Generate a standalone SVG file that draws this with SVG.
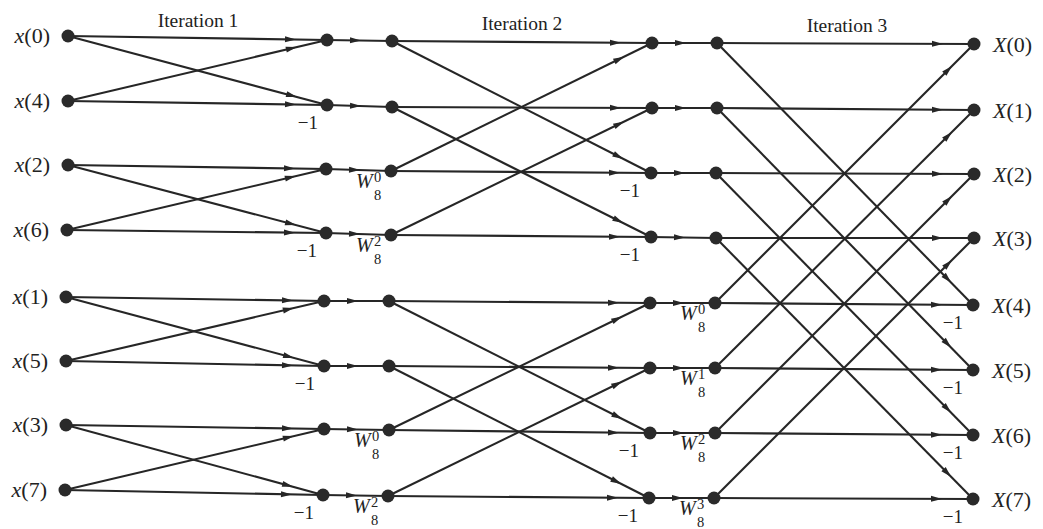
<svg xmlns="http://www.w3.org/2000/svg" width="1043" height="529" viewBox="0 0 1043 529">
<style>
.e line{stroke:#262626;stroke-width:2.1;fill:none;marker-end:url(#ah)}
circle{fill:#2a2a2a}
text{font-family:"Liberation Serif","DejaVu Serif",serif;fill:#222}
.it{font-size:19.5px}
.lb{font-size:22px}
.m1{font-size:19px;text-anchor:end}
.w{font-size:20px}
.s{font-size:14.5px;font-style:normal}
.i{font-style:italic}
</style>
<defs>
<marker id="ah" markerUnits="userSpaceOnUse" markerWidth="44" markerHeight="8" viewBox="0 -1 44 8" refX="42" refY="3" orient="auto" overflow="visible">
<path d="M0,0 L11,3 L0,6 z" fill="#262626"/>
</marker>
</defs>
<rect width="1043" height="529" fill="#ffffff"/>
<g id="titles">
<text class="it" x="198" y="27" text-anchor="middle">Iteration 1</text>
<text class="it" x="522" y="30" text-anchor="middle">Iteration 2</text>
<text class="it" x="847" y="32" text-anchor="middle">Iteration 3</text>
</g>
<g id="connectors" class="e">
<line x1="68" y1="36" x2="327" y2="40"/>
<line x1="68" y1="101" x2="327" y2="40"/>
<line x1="68" y1="36" x2="327" y2="105"/>
<line x1="68" y1="101" x2="327" y2="105"/>
<line x1="68" y1="165" x2="326" y2="169"/>
<line x1="67" y1="230" x2="326" y2="169"/>
<line x1="68" y1="165" x2="326" y2="233"/>
<line x1="67" y1="230" x2="326" y2="233"/>
<line x1="66" y1="297" x2="324" y2="301"/>
<line x1="66" y1="361" x2="324" y2="301"/>
<line x1="66" y1="297" x2="324" y2="366"/>
<line x1="66" y1="361" x2="324" y2="366"/>
<line x1="66" y1="425" x2="324" y2="429"/>
<line x1="65" y1="490" x2="324" y2="429"/>
<line x1="66" y1="425" x2="323" y2="495"/>
<line x1="65" y1="490" x2="323" y2="495"/>
<line x1="327" y1="40" x2="392" y2="41"/>
<line x1="327" y1="105" x2="392" y2="107"/>
<line x1="326" y1="169" x2="391" y2="171"/>
<line x1="326" y1="233" x2="391" y2="235"/>
<line x1="324" y1="301" x2="389" y2="301"/>
<line x1="324" y1="366" x2="389" y2="366"/>
<line x1="324" y1="429" x2="389" y2="430"/>
<line x1="323" y1="495" x2="388" y2="496"/>
<line x1="392" y1="41" x2="652" y2="43"/>
<line x1="391" y1="171" x2="652" y2="43"/>
<line x1="392" y1="41" x2="651" y2="173"/>
<line x1="391" y1="171" x2="651" y2="173"/>
<line x1="392" y1="107" x2="652" y2="108"/>
<line x1="391" y1="235" x2="652" y2="108"/>
<line x1="392" y1="107" x2="651" y2="237"/>
<line x1="391" y1="235" x2="651" y2="237"/>
<line x1="389" y1="301" x2="650" y2="303"/>
<line x1="389" y1="430" x2="650" y2="303"/>
<line x1="389" y1="301" x2="650" y2="433"/>
<line x1="389" y1="430" x2="650" y2="433"/>
<line x1="389" y1="366" x2="650" y2="368"/>
<line x1="388" y1="496" x2="650" y2="368"/>
<line x1="389" y1="366" x2="649" y2="498"/>
<line x1="388" y1="496" x2="649" y2="498"/>
<line x1="652" y1="43" x2="717" y2="43"/>
<line x1="652" y1="108" x2="717" y2="108"/>
<line x1="651" y1="173" x2="716" y2="173"/>
<line x1="651" y1="237" x2="716" y2="238"/>
<line x1="650" y1="303" x2="715" y2="303"/>
<line x1="650" y1="368" x2="715" y2="368"/>
<line x1="650" y1="433" x2="715" y2="433"/>
<line x1="649" y1="498" x2="714" y2="498"/>
<line x1="717" y1="43" x2="974" y2="44"/>
<line x1="715" y1="303" x2="974" y2="44"/>
<line x1="717" y1="43" x2="973" y2="305"/>
<line x1="715" y1="303" x2="973" y2="305"/>
<line x1="717" y1="108" x2="974" y2="110"/>
<line x1="715" y1="368" x2="974" y2="110"/>
<line x1="717" y1="108" x2="973" y2="370"/>
<line x1="715" y1="368" x2="973" y2="370"/>
<line x1="716" y1="173" x2="974" y2="174"/>
<line x1="715" y1="433" x2="974" y2="174"/>
<line x1="716" y1="173" x2="973" y2="435"/>
<line x1="715" y1="433" x2="973" y2="435"/>
<line x1="716" y1="238" x2="974" y2="238"/>
<line x1="714" y1="498" x2="974" y2="238"/>
<line x1="716" y1="238" x2="973" y2="499"/>
<line x1="714" y1="498" x2="973" y2="499"/>
</g>
<!-- column 0: inputs -->
<g id="in0"><circle cx="68" cy="36" r="6.5"/><text class="lb" x="50" y="43" text-anchor="end"><tspan class="i">x</tspan>(0)</text></g>
<g id="in4"><circle cx="68" cy="101" r="6.5"/><text class="lb" x="50" y="108" text-anchor="end"><tspan class="i">x</tspan>(4)</text></g>
<g id="in2"><circle cx="68" cy="165" r="6.5"/><text class="lb" x="50" y="172" text-anchor="end"><tspan class="i">x</tspan>(2)</text></g>
<g id="in6"><circle cx="67" cy="230" r="6.5"/><text class="lb" x="49" y="237" text-anchor="end"><tspan class="i">x</tspan>(6)</text></g>
<g id="in1"><circle cx="66" cy="297" r="6.5"/><text class="lb" x="48" y="304" text-anchor="end"><tspan class="i">x</tspan>(1)</text></g>
<g id="in5"><circle cx="66" cy="361" r="6.5"/><text class="lb" x="48" y="368" text-anchor="end"><tspan class="i">x</tspan>(5)</text></g>
<g id="in3"><circle cx="66" cy="425" r="6.5"/><text class="lb" x="48" y="432" text-anchor="end"><tspan class="i">x</tspan>(3)</text></g>
<g id="in7"><circle cx="65" cy="490" r="6.5"/><text class="lb" x="47" y="497" text-anchor="end"><tspan class="i">x</tspan>(7)</text></g>
<!-- column 1 -->
<g id="c1r0"><circle cx="327" cy="40" r="6.5"/></g>
<g id="c1r1"><circle cx="327" cy="105" r="6.5"/><text class="m1" x="318" y="129">−1</text></g>
<g id="c1r2"><circle cx="326" cy="169" r="6.5"/></g>
<g id="c1r3"><circle cx="326" cy="233" r="6.5"/><text class="m1" x="317" y="257">−1</text></g>
<g id="c1r4"><circle cx="324" cy="301" r="6.5"/></g>
<g id="c1r5"><circle cx="324" cy="366" r="6.5"/><text class="m1" x="315" y="390">−1</text></g>
<g id="c1r6"><circle cx="324" cy="429" r="6.5"/></g>
<g id="c1r7"><circle cx="323" cy="495" r="6.5"/><text class="m1" x="314" y="519">−1</text></g>
<!-- column 2 -->
<g id="c2r0"><circle cx="392" cy="41" r="6.5"/></g>
<g id="c2r1"><circle cx="392" cy="107" r="6.5"/></g>
<g id="c2r2"><circle cx="391" cy="171" r="6.5"/><text class="w i" x="356" y="188">W</text><text class="s" x="374" y="182">0</text><text class="s" x="374" y="200">8</text></g>
<g id="c2r3"><circle cx="391" cy="235" r="6.5"/><text class="w i" x="356" y="252">W</text><text class="s" x="374" y="246">2</text><text class="s" x="374" y="264">8</text></g>
<g id="c2r4"><circle cx="389" cy="301" r="6.5"/></g>
<g id="c2r5"><circle cx="389" cy="366" r="6.5"/></g>
<g id="c2r6"><circle cx="389" cy="430" r="6.5"/><text class="w i" x="354" y="447">W</text><text class="s" x="372" y="441">0</text><text class="s" x="372" y="459">8</text></g>
<g id="c2r7"><circle cx="388" cy="496" r="6.5"/><text class="w i" x="353" y="513">W</text><text class="s" x="371" y="507">2</text><text class="s" x="371" y="525">8</text></g>
<!-- column 3 -->
<g id="c3r0"><circle cx="652" cy="43" r="6.5"/></g>
<g id="c3r1"><circle cx="652" cy="108" r="6.5"/></g>
<g id="c3r2"><circle cx="651" cy="173" r="6.5"/><text class="m1" x="640" y="197">−1</text></g>
<g id="c3r3"><circle cx="651" cy="237" r="6.5"/><text class="m1" x="640" y="261">−1</text></g>
<g id="c3r4"><circle cx="650" cy="303" r="6.5"/></g>
<g id="c3r5"><circle cx="650" cy="368" r="6.5"/></g>
<g id="c3r6"><circle cx="650" cy="433" r="6.5"/><text class="m1" x="639" y="457">−1</text></g>
<g id="c3r7"><circle cx="649" cy="498" r="6.5"/><text class="m1" x="638" y="522">−1</text></g>
<!-- column 4 -->
<g id="c4r0"><circle cx="717" cy="43" r="6.5"/></g>
<g id="c4r1"><circle cx="717" cy="108" r="6.5"/></g>
<g id="c4r2"><circle cx="716" cy="173" r="6.5"/></g>
<g id="c4r3"><circle cx="716" cy="238" r="6.5"/></g>
<g id="c4r4"><circle cx="715" cy="303" r="6.5"/><text class="w i" x="680" y="320">W</text><text class="s" x="698" y="314">0</text><text class="s" x="698" y="332">8</text></g>
<g id="c4r5"><circle cx="715" cy="368" r="6.5"/><text class="w i" x="680" y="385">W</text><text class="s" x="698" y="379">1</text><text class="s" x="698" y="397">8</text></g>
<g id="c4r6"><circle cx="715" cy="433" r="6.5"/><text class="w i" x="680" y="450">W</text><text class="s" x="698" y="444">2</text><text class="s" x="698" y="462">8</text></g>
<g id="c4r7"><circle cx="714" cy="498" r="6.5"/><text class="w i" x="679" y="515">W</text><text class="s" x="697" y="509">3</text><text class="s" x="697" y="527">8</text></g>
<!-- column 5: outputs -->
<g id="out0"><circle cx="974" cy="44" r="6.5"/><text class="lb" x="993" y="52"><tspan class="i">X</tspan>(0)</text></g>
<g id="out1"><circle cx="974" cy="110" r="6.5"/><text class="lb" x="993" y="118"><tspan class="i">X</tspan>(1)</text></g>
<g id="out2"><circle cx="974" cy="174" r="6.5"/><text class="lb" x="993" y="182"><tspan class="i">X</tspan>(2)</text></g>
<g id="out3"><circle cx="974" cy="238" r="6.5"/><text class="lb" x="993" y="246"><tspan class="i">X</tspan>(3)</text></g>
<g id="out4"><circle cx="973" cy="305" r="6.5"/><text class="lb" x="992" y="313"><tspan class="i">X</tspan>(4)</text><text class="m1" x="963" y="329">−1</text></g>
<g id="out5"><circle cx="973" cy="370" r="6.5"/><text class="lb" x="992" y="378"><tspan class="i">X</tspan>(5)</text><text class="m1" x="963" y="394">−1</text></g>
<g id="out6"><circle cx="973" cy="435" r="6.5"/><text class="lb" x="992" y="443"><tspan class="i">X</tspan>(6)</text><text class="m1" x="963" y="459">−1</text></g>
<g id="out7"><circle cx="973" cy="499" r="6.5"/><text class="lb" x="992" y="507"><tspan class="i">X</tspan>(7)</text><text class="m1" x="963" y="523">−1</text></g>
</svg>
